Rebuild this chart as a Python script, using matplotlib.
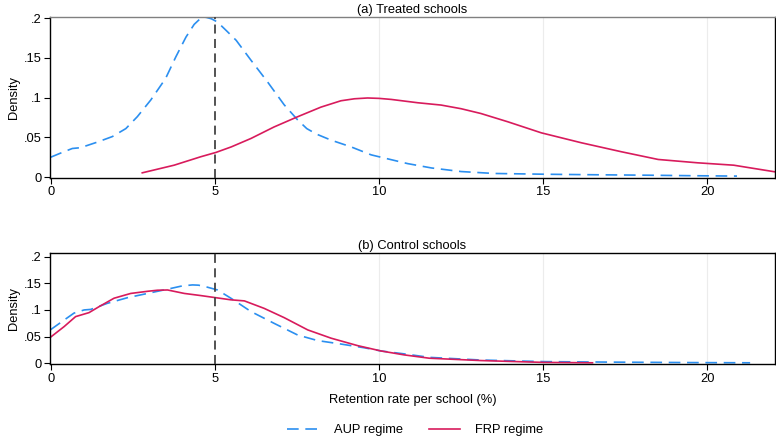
import numpy as np
import matplotlib.pyplot as plt

plt.rcParams['font.family'] = ['Liberation Sans', 'DejaVu Sans']

# (a) treated schools, densities
aup_t_x = [0.0, 0.35, 0.66, 0.91, 1.42, 1.88, 2.29, 2.64, 3.05, 3.5, 3.81, 4.12, 4.37,
           4.55, 4.73, 4.9, 5.08, 5.38, 5.65, 6.1, 6.6, 7.11, 7.52, 7.8, 8.1, 8.54, 9.15,
           9.76, 10.06, 10.87, 11.6, 12.5, 13.5, 15.1, 16.5, 18.2, 19.5, 20.9]
aup_t_y = [0.025, 0.031, 0.036, 0.037, 0.044, 0.051, 0.061, 0.076, 0.097, 0.124, 0.151,
           0.176, 0.192, 0.199, 0.201, 0.199, 0.195, 0.183, 0.172, 0.147, 0.12, 0.091,
           0.072, 0.061, 0.054, 0.0465, 0.038, 0.028, 0.025, 0.017, 0.0115, 0.007,
           0.0046, 0.0036, 0.003, 0.0024, 0.0018, 0.0013]
frp_t_x = [2.79, 3.76, 4.57, 5.03, 5.5, 6.1, 6.8, 7.52, 8.23, 8.84, 9.25, 9.65, 10.0,
           10.37, 11.18, 11.89, 12.5, 13.1, 13.92, 14.94, 16.16, 17.38, 18.5, 19.7, 20.8,
           21.4, 22.05]
frp_t_y = [0.0054, 0.015, 0.0256, 0.031, 0.038, 0.0486, 0.063, 0.0759, 0.088, 0.096,
           0.0985, 0.0995, 0.099, 0.0977, 0.0935, 0.0906, 0.086, 0.08, 0.0696, 0.0557,
           0.0432, 0.0319, 0.0222, 0.018, 0.015, 0.011, 0.0067]

# (b) control schools
aup_c_x = [0.0, 0.41, 0.71, 1.02, 1.22, 1.73, 2.34, 2.95, 3.56, 3.96, 4.15, 4.32, 4.5,
           4.67, 5.08, 5.49, 6.1, 6.8, 7.52, 8.13, 8.84, 9.55, 10.06, 10.77, 11.53, 13.1,
           15.04, 17.2, 19.5, 21.3]
aup_c_y = [0.063, 0.081, 0.094, 0.1, 0.101, 0.1125, 0.123, 0.131, 0.139, 0.1445, 0.146,
           0.147, 0.1465, 0.1445, 0.1375, 0.122, 0.097, 0.075, 0.053, 0.0425, 0.036,
           0.029, 0.023, 0.0175, 0.011, 0.006, 0.003, 0.002, 0.0012, 0.0008]
frp_c_x = [0.0, 0.41, 0.76, 1.17, 1.47, 1.93, 2.44, 2.95, 3.25, 3.56, 4.07, 4.57, 5.03,
           5.49, 5.9, 6.5, 7.11, 7.83, 8.54, 9.35, 10.06, 10.77, 11.53, 13.1, 15.04, 16.5]
frp_c_y = [0.049, 0.0687, 0.0875, 0.095, 0.106, 0.122, 0.131, 0.135, 0.137, 0.1375,
           0.131, 0.127, 0.123, 0.119, 0.117, 0.103, 0.0856, 0.0625, 0.047, 0.033, 0.023,
           0.0156, 0.0094, 0.005, 0.0015, 0.0008]

panels = ['(a) Treated schools', '(b) Control schools']
yticks = [0, 0.05, 0.1, 0.15, 0.2]
ylabels = ['0', '.05', '.1', '.15', '.2']
xticks = [0, 5, 10, 15, 20]
cutoff = 5

blue = '#2b8ff0'
red = '#d81b5c'
fs = 9.3

fig = plt.figure(figsize=(7.76, 4.38), dpi=100)
ax1 = fig.add_axes([0.0644, 0.5947, 0.934, 0.367])
ax2 = fig.add_axes([0.0644, 0.1683, 0.934, 0.2548])

data = [(ax1, aup_t_x, aup_t_y, frp_t_x, frp_t_y, (-0.0005, 0.2016)),
        (ax2, aup_c_x, aup_c_y, frp_c_x, frp_c_y, (-0.002, 0.2075))]

for i, (ax, ax_, ay_, fx_, fy_, yl) in enumerate(data):
    for g in [10, 15, 20]:
        ax.axvline(g, color='#ececec', lw=0.8, zorder=0)
    l1, = ax.plot(ax_, ay_, color=blue, lw=1.2, dashes=(7, 4), label='AUP regime')
    l2, = ax.plot(fx_, fy_, color=red, lw=1.2, label='FRP regime')
    ax.axvline(cutoff, color='#444444', lw=1.3, dashes=(5, 3), zorder=3)
    ax.set_xlim(-0.02, 22.05)
    ax.set_ylim(*yl)
    ax.set_xticks(xticks)
    ax.set_yticks(yticks)
    ax.set_yticklabels(ylabels)
    ax.tick_params(labelsize=fs, length=4, width=0.8, direction='out', pad=2)
    ax.set_ylabel('Density', fontsize=fs, labelpad=3)
    ax.set_title(panels[i], fontsize=fs, pad=3)
    for s in ax.spines.values():
        s.set_linewidth(1.0)

ax1.spines['top'].set_color('#808080')
ax2.set_xlabel('Retention rate per school (%)', fontsize=fs, labelpad=7)

fig.legend(handles=[l1, l2], loc='center', bbox_to_anchor=(0.535, 0.018),
           ncol=2, frameon=False, fontsize=fs, handlelength=2.4,
           columnspacing=2.0, handletextpad=1.2)

fig.savefig('out.png', dpi=100)
